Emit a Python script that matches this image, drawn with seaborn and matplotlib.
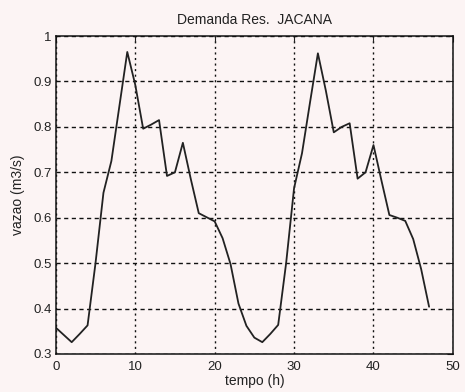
import matplotlib
matplotlib.use("Agg")
import matplotlib.pyplot as plt
import seaborn as sns
import pandas as pd

hours = list(range(48))
vazao = [0.358, 0.342, 0.326, 0.344, 0.363, 0.500, 0.655, 0.725, 0.845, 0.965,
         0.893, 0.796, 0.805, 0.815, 0.692, 0.700, 0.765, 0.685, 0.610, 0.601,
         0.592, 0.555, 0.498, 0.411, 0.362, 0.336, 0.326, 0.344, 0.364, 0.500,
         0.665, 0.742, 0.853, 0.962, 0.880, 0.788, 0.800, 0.808, 0.686, 0.700,
         0.760, 0.682, 0.606, 0.600, 0.593, 0.553, 0.487, 0.404]
xticks = [0, 10, 20, 30, 40, 50]
yticks = [0.3, 0.4, 0.5, 0.6, 0.7, 0.8, 0.9, 1.0]
ytick_labels = ["0.3", "0.4", "0.5", "0.6", "0.7", "0.8", "0.9", "1"]

sns.set_style("white")
plt.rcParams['font.family'] = ['Liberation Sans', 'DejaVu Sans']

bg = "#fcf4f4"
fig = plt.figure(figsize=(4.65, 3.92), dpi=100, facecolor=bg)
ax = fig.add_axes([0.120, 0.097, 0.854, 0.811])
ax.set_facecolor(bg)

df = pd.DataFrame({"tempo": hours, "vazao": vazao})
sns.lineplot(data=df, x="tempo", y="vazao", ax=ax, color="#222222", linewidth=1.3)

ax.set_xlim(0, 50)
ax.set_ylim(0.3, 1.0)
ax.set_xticks(xticks)
ax.set_xticklabels([str(t) for t in xticks])
ax.set_yticks(yticks)
ax.set_yticklabels(ytick_labels)

ax.xaxis.grid(True, linestyle=(0, (1.5, 2.5)), color="#111111", linewidth=1.0)
ax.yaxis.grid(True, linestyle=(0, (3, 2.5)), color="#111111", linewidth=1.0)

for s in ax.spines.values():
    s.set_visible(True)
    s.set_color("#111111")
    s.set_linewidth(1.1)

ax.tick_params(direction="in", top=True, right=True, length=4, width=0.8,
               labelsize=9.5, colors="#222222")
ax.tick_params(axis="x", pad=5)
ax.tick_params(axis="y", pad=3)

ax.set_title("Demanda Res.  JACANA", fontsize=10, color="#222222", pad=9)
ax.set_xlabel("tempo (h)", fontsize=10, color="#222222", labelpad=1)
ax.set_ylabel("vazao (m3/s)", fontsize=10, color="#222222", labelpad=6)

fig.savefig("out.png", dpi=100, facecolor=bg)
